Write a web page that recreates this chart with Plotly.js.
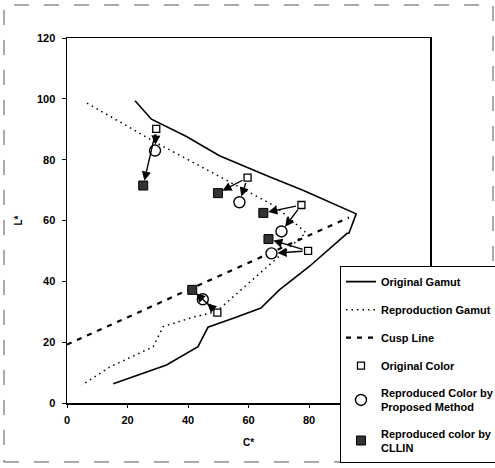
<!DOCTYPE html>
<html>
<head>
<meta charset="utf-8">
<script src="https://cdn.plot.ly/plotly-3.0.1.min.js"></script>
<style>
html,body{margin:0;padding:0;background:#fff;}
#chart{width:495px;height:468px;}
</style>
</head>
<body>
<div id="chart"></div>
<script>
// Original gamut boundary (C*, L*)
var origGamutC = [22.5, 27.9, 39.5, 50.4, 66.9, 77.8, 95.6, 93.2, 92.6, 80.0, 70.2, 64.1, 55.9, 46.6, 43.3, 32.9, 15.3];
var origGamutL = [99.4, 93.3, 87.6, 81.3, 74.4, 70.0, 62.2, 55.8, 55.8, 44.8, 37.2, 31.2, 28.2, 24.9, 18.5, 12.5, 6.3];
// Reproduction gamut boundary
var reproGamutC = [6.6, 20.0, 29.6, 40.0, 60.0, 69.0, 79.0, 49.3, 41.6, 31.8, 28.5, 14.3, 4.9];
var reproGamutL = [98.6, 91.0, 85.5, 80.0, 69.5, 64.6, 56.0, 30.0, 28.2, 25.1, 18.5, 11.9, 5.9];
// Cusp line
var cuspC = [0, 93.2];
var cuspL = [19.2, 61.0];
// Original colours
var origColC = [29.5, 59.7, 77.5, 79.7, 49.7];
var origColL = [90.1, 74.1, 65.1, 50.0, 29.7];
// Reproduced colour by proposed method
var propC = [29.1, 57.0, 70.9, 67.6, 44.9];
var propL = [83.0, 66.0, 56.4, 49.2, 34.1];
// Reproduced colour by CLLIN
var cllinC = [25.2, 49.9, 64.9, 66.6, 41.4];
var cllinL = [71.5, 69.0, 62.5, 53.9, 37.2];

// tick labels 100 and 120 on the C* axis are hidden behind the legend in the reference
var xTicks = [0, 20, 40, 60, 80, 100, 120];
var xTickText = ['0', '20', '40', '60', '80', '', ''];
var yTicks = [0, 20, 40, 60, 80, 100, 120];
var yTickText = ['0', '20', '40', '60', '80', '100', '120'];

var FONT = 'Liberation Sans, Arial, sans-serif';

var traces = [
  {x: origGamutC, y: origGamutL, mode: 'lines', name: 'Original Gamut', legendgroup: 'a',
   line: {color: '#000', width: 1.6}},
  {x: reproGamutC, y: reproGamutL, mode: 'lines', name: 'Reproduction Gamut', legendgroup: 'b',
   line: {color: '#000', width: 1.5, dash: '1.5px,4px'}},
  {x: cuspC, y: cuspL, mode: 'lines', name: 'Cusp Line', legendgroup: 'c',
   line: {color: '#000', width: 2.2, dash: '5px,6px'}},
  {x: origColC, y: origColL, mode: 'markers', name: 'Original Color', legendgroup: 'd',
   marker: {symbol: 'square', size: 7, color: '#fff', line: {color: '#000', width: 1.3}}},
  {x: propC, y: propL, mode: 'markers', name: 'Reproduced Color by<br>Proposed Method', legendgroup: 'e',
   marker: {symbol: 'circle', size: 11, color: '#fff', line: {color: '#000', width: 1.4}}},
  {x: cllinC, y: cllinL, mode: 'markers', name: 'Reproduced color by<br>CLLIN', legendgroup: 'f',
   marker: {symbol: 'square', size: 9, color: '#333', line: {color: '#000', width: 1}}}
];

var annotations = [];
for (var i = 0; i < origColC.length; i++) {
  annotations.push({x: propC[i], y: propL[i], ax: origColC[i], ay: origColL[i],
    xref: 'x', yref: 'y', axref: 'x', ayref: 'y', text: '', showarrow: true,
    arrowhead: 2, arrowsize: 1.3, arrowwidth: 1.4, arrowcolor: '#000', standoff: 6, startstandoff: 4});
  annotations.push({x: cllinC[i], y: cllinL[i], ax: origColC[i], ay: origColL[i],
    xref: 'x', yref: 'y', axref: 'x', ayref: 'y', text: '', showarrow: true,
    arrowhead: 2, arrowsize: 1.3, arrowwidth: 1.4, arrowcolor: '#000', standoff: 5, startstandoff: 4});
}

var layout = {
  width: 495, height: 468,
  margin: {l: 67, r: 65, t: 38, b: 65, autoexpand: false},
  paper_bgcolor: '#fff', plot_bgcolor: '#fff',
  font: {family: FONT, size: 11, color: '#000', weight: 'bold'},
  showlegend: true,
  legend: {x: 0.752, y: 0.375, xanchor: 'left', yanchor: 'top',
    bgcolor: '#fff', bordercolor: '#000', borderwidth: 1,
    font: {family: FONT, size: 11, color: '#000', weight: 'bold'},
    traceorder: 'grouped', tracegroupgap: 9, valign: 'middle'},
  xaxis: {range: [0, 120], tickvals: xTicks, ticktext: xTickText,
    showgrid: false, zeroline: false, showline: true, linecolor: '#000', linewidth: 1.5, mirror: true,
    ticks: 'outside', ticklen: 3, tickcolor: '#000', ticklabelstandoff: 3,
    tickfont: {family: FONT, size: 11, weight: 'bold'},
    title: {text: 'C*', font: {family: FONT, size: 10, weight: 'bold'}, standoff: 14}},
  yaxis: {range: [0, 120], tickvals: yTicks, ticktext: yTickText,
    showgrid: false, zeroline: false, showline: true, linecolor: '#000', linewidth: 1.5, mirror: true,
    ticks: 'outside', ticklen: 4, tickcolor: '#000', ticklabelstandoff: 4,
    tickfont: {family: FONT, size: 11, weight: 'bold'},
    title: {text: 'L*', font: {family: FONT, size: 10, weight: 'bold'}, standoff: 12}},
  annotations: annotations,
  shapes: [{type: 'rect', xref: 'paper', yref: 'paper',
    x0: -0.1736, x1: 1.1736, y0: -0.1616, y1: 1.0904,
    line: {color: '#555', width: 1, dash: 'longdash'}, fillcolor: 'rgba(0,0,0,0)', layer: 'below'}]
};

Plotly.newPlot('chart', traces, layout, {displayModeBar: false, staticPlot: true});
</script>
</body>
</html>
